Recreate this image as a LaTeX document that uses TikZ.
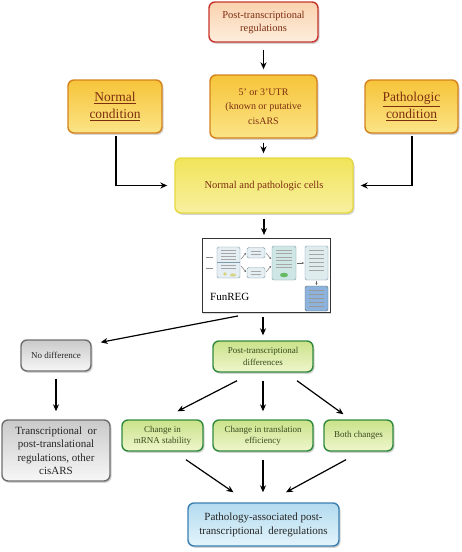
\documentclass[tikz,border=0pt]{standalone}
\usepackage{fontspec}
\setmainfont{Liberation Serif}
\usetikzlibrary{shadows,arrows.meta}
\definecolor{redborder}{HTML}{C8342C}
\definecolor{peachtop}{HTML}{FAD2AE}
\definecolor{peachbot}{HTML}{FDEEDD}
\definecolor{goldborder}{HTML}{D4821E}
\definecolor{goldtop}{HTML}{F6C43A}
\definecolor{goldbot}{HTML}{FBE486}
\definecolor{yelborder}{HTML}{E6D840}
\definecolor{yeltop}{HTML}{F1E45A}
\definecolor{yelbot}{HTML}{F8F0A0}
\definecolor{grayborder}{HTML}{6E6E6E}
\definecolor{graytop}{HTML}{CACACA}
\definecolor{graybot}{HTML}{F7F7F7}
\definecolor{greenborder}{HTML}{2F8A3C}
\definecolor{greentop}{HTML}{CBE28A}
\definecolor{greenbot}{HTML}{EEF6CC}
\definecolor{blueborder}{HTML}{3A7FB0}
\definecolor{bluetop}{HTML}{B3DBEF}
\definecolor{bluebot}{HTML}{E3F4FB}
\definecolor{brown}{HTML}{7E2E10}
\definecolor{olive}{HTML}{3A4A1E}
\definecolor{thumbline}{HTML}{7C9AAA}
\definecolor{thumbfill}{HTML}{E4EEF3}
\definecolor{thumbgreen}{HTML}{CFE7E4}
\definecolor{thumbdark}{HTML}{8DB2DC}
\begin{document}
\begin{tikzpicture}[x=1pt,y=-1pt,
  box/.style={rounded corners=6pt, line width=1.4pt, align=center, inner sep=1pt,
    drop shadow={shadow xshift=1.5pt, shadow yshift=-1.8pt, opacity=0.35}},
  peachbox/.style={box, draw=redborder, top color=peachtop, bottom color=peachbot, text=brown},
  goldbox/.style={box, draw=goldborder, top color=goldtop, bottom color=goldbot, text=brown},
  yelbox/.style={box, draw=yelborder, top color=yeltop, bottom color=yelbot, text=brown},
  graybox/.style={box, draw=grayborder, top color=graytop, bottom color=graybot, text=black!85},
  greenbox/.style={box, draw=greenborder, top color=greentop, bottom color=greenbot, text=olive},
  bluebox/.style={box, draw=blueborder, top color=bluetop, bottom color=bluebot, text=black!85},
  arr/.style={-{Stealth[length=7pt,width=6pt]}, line width=1.2pt},
  tarr/.style={-{Stealth[length=2pt,width=2pt]}, line width=0.4pt, draw=black!60},
  tbox/.style={rounded corners=1.5pt, line width=0.4pt, draw=thumbline, fill=thumbfill}
]
\useasboundingbox (0,0) rectangle (461,552);

% top box
\node[peachbox, minimum width=109pt, minimum height=40pt, font=\fontsize{10.5}{13}\selectfont] (top) at (263.5,22)
  {Post-transcriptional\\regulations};

% second row
\node[goldbox, minimum width=94pt, minimum height=53pt, font=\fontsize{13.5}{17}\selectfont] (normal) at (115,106.5)
  {\underline{Normal}\\\underline{condition}};
\node[goldbox, minimum width=107pt, minimum height=63pt, font=\fontsize{10}{14.5}\selectfont] (utr) at (263.5,106.5)
  {5' or 3'UTR\\(known or putative\\cisARS};
\node[goldbox, minimum width=93pt, minimum height=53pt, font=\fontsize{13.5}{17}\selectfont] (patho) at (411.5,106.5)
  {\underline{Pathologic}\\\underline{condition}};

% cells
\node[yelbox, minimum width=178pt, minimum height=55pt, font=\fontsize{10.5}{13}\selectfont] (cells) at (264,185.5)
  {Normal and pathologic cells};

% FunREG box
\node[draw=black!80, fill=white, line width=0.9pt, minimum width=128pt, minimum height=74pt, inner sep=0pt,
  drop shadow={shadow xshift=1.2pt, shadow yshift=-1.2pt, opacity=0.3}] (fun) at (266,275.5) {};
% thumbnail
\draw[line width=0.6pt, draw=black!45] (206,257) -- (213,257);
\draw[line width=0.6pt, draw=black!45] (206,268) -- (213,268);
\draw[tbox] (217,247) rectangle (240,278);
\draw[line width=0.3pt, draw=thumbline] (217,262) -- (240,262);
\foreach \yy in {250,253,256,259,265,268}
  \draw[line width=0.3pt, draw=black!35] (221,\yy) -- (236,\yy);
\fill[yellow!60!olive!60] (225,274) circle (1.8pt);
\fill[yellow!60!olive!60] (233,275) ellipse (3pt and 1.6pt);
\draw[tbox] (247,247.5) rectangle (265,258);
\draw[tbox] (247,267.5) rectangle (265,278);
\draw[line width=0.3pt, draw=black!35] (251,251) -- (261,251) (251,254) -- (261,254);
\draw[line width=0.3pt, draw=black!35] (251,271) -- (261,271) (251,274) -- (261,274);
\draw[tbox, fill=thumbgreen] (272,246) rectangle (296,280);
\foreach \yy in {250,253,257,260,264,267}
  \draw[line width=0.3pt, draw=black!35] (276,\yy) -- (292,\yy);
\fill[green!55!black!60] (284,275) ellipse (4pt and 2.3pt);
\draw[tbox, fill=thumbfill!70!thumbgreen] (305,246) rectangle (328,280);
\foreach \yy in {250,254,258,262,266,270}
  \draw[line width=0.3pt, draw=black!35] (309,\yy) -- (324,\yy);
\draw[tbox, fill=thumbdark, draw=thumbline!70!black] (305,286) rectangle (328,311);
\foreach \yy in {290,294,298,302,306}
  \draw[line width=0.3pt, draw=black!40] (309,\yy) -- (324,\yy);
\draw[tarr] (241,259) -- (246,253);
\draw[tarr] (241,266) -- (246,272);
\draw[tarr] (266,253) -- (271,259);
\draw[tarr] (266,272) -- (271,266);
\draw[tarr] (297,263) -- (304,263);
\draw[tarr] (316.5,281) -- (316.5,285);
\node[anchor=west, inner sep=0pt, text=black, font=\fontsize{11}{13}\selectfont] (funlabel) at (210,297)
  {FunREG};

% row of differences
\node[graybox, minimum width=70pt, minimum height=31pt, font=\fontsize{9}{11}\selectfont] (nodiff) at (56,355.5)
  {No difference};
\node[greenbox, minimum width=100pt, minimum height=31pt, font=\fontsize{9}{11.5}\selectfont] (pdiff) at (263,356.5)
  {Post-transcriptional\\differences};

% bottom rows
\node[graybox, minimum width=108pt, minimum height=61pt, font=\fontsize{11}{13.5}\selectfont] (other) at (56,450.5)
  {Transcriptional\ \ or\\post-translational\\regulations, other\\cisARS};
\node[greenbox, minimum width=81pt, minimum height=31pt, font=\fontsize{9}{11}\selectfont] (mrna) at (162.5,435.5)
  {Change in\\mRNA stability};
\node[greenbox, minimum width=100pt, minimum height=31pt, font=\fontsize{9}{11}\selectfont] (trans) at (263,435.5)
  {Change in translation\\efficiency};
\node[greenbox, minimum width=69pt, minimum height=31pt, font=\fontsize{9}{11}\selectfont] (both) at (358.5,435.5)
  {Both changes};
\node[bluebox, minimum width=151pt, minimum height=43pt, font=\fontsize{11}{14}\selectfont] (blue) at (263.5,524.5)
  {Pathology-associated post-\\transcriptional\ \ deregulations};

% connectors
\draw[arr, shorten <=7pt, shorten >=5pt] (top.south) -- (top.south |- utr.north);
\draw[arr, shorten <=2pt] ([xshift=1pt]normal.south) |- ([xshift=-7pt]cells.west);
\draw[arr, shorten <=2pt] ([xshift=0.5pt]patho.south) |- ([xshift=7pt]cells.east);
\draw[arr, shorten <=4pt, shorten >=4pt] (utr.south) -- (utr.south |- cells.north);
\draw[arr, shorten <=5pt, shorten >=3pt] (cells.south) -- (cells.south |- fun.north);
\draw[arr, shorten <=4pt, shorten >=5pt] ([xshift=-3pt]fun.south) -- ([xshift=-3pt]fun.south |- pdiff.north);
\draw[arr] ([xshift=-28pt,yshift=-3pt]fun.south) -- ([xshift=9pt,yshift=-3pt]nodiff.north east);
\draw[arr, shorten <=7pt, shorten >=8pt] (nodiff.south) -- (nodiff.south |- other.north);
\draw[arr] ([xshift=-26pt,yshift=-8pt]pdiff.south) -- ([xshift=15pt,yshift=8pt]mrna.north);
\draw[arr, shorten <=8pt, shorten >=8pt] (pdiff.south) -- (trans.north);
\draw[arr] ([xshift=34pt,yshift=-8pt]pdiff.south) -- ([xshift=-15pt,yshift=5pt]both.north);
\draw[arr] ([xshift=23.5pt,yshift=-8pt]mrna.south) -- ([xshift=-30pt,yshift=10pt]blue.north);
\draw[arr, shorten <=8pt, shorten >=10pt] (trans.south) -- (trans.south |- blue.north);
\draw[arr] ([xshift=-12.5pt,yshift=-8pt]both.south) -- ([xshift=22.5pt,yshift=10pt]blue.north);
\end{tikzpicture}
\end{document}
